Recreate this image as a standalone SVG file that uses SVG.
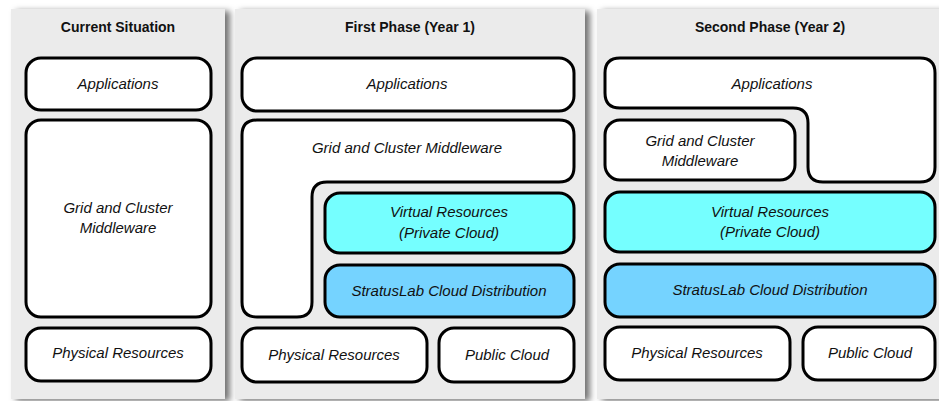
<svg xmlns="http://www.w3.org/2000/svg" width="939" height="401" viewBox="0 0 939 401">
<defs>
<filter id="sh" x="-5%" y="-5%" width="115%" height="115%">
<feDropShadow dx="5" dy="2" stdDeviation="3" flood-color="#000" flood-opacity="0.55"/>
</filter>
<style>
.panel{fill:#ebebeb;filter:url(#sh)}
.title{font-family:"Liberation Sans",Arial,sans-serif;font-weight:bold;font-size:14px;fill:#111;text-anchor:middle}
.box{fill:#fff;stroke:#000;stroke-width:3}
.virt{fill:#75ffff;stroke:#000;stroke-width:3}
.strat{fill:#75d3ff;stroke:#000;stroke-width:3}
.lbl{font-family:"Liberation Sans",Arial,sans-serif;font-style:italic;font-size:15px;fill:#111;text-anchor:middle}
</style>
</defs>
<rect width="939" height="401" fill="#fff"/>
<g id="panel-current">
<rect class="panel" x="11" y="9" width="214" height="390"/>
<text class="title" x="118" y="32">Current Situation</text>
</g>
<g id="panel-first">
<rect class="panel" x="235" y="9" width="350" height="390"/>
<text class="title" x="410" y="32">First Phase (Year 1)</text>
</g>
<g id="panel-second">
<rect class="panel" x="597" y="9" width="345" height="390"/>
<text class="title" x="770" y="32">Second Phase (Year 2)</text>
</g>

<g id="p1-applications"><rect class="box" x="26" y="58" width="185" height="52" rx="15"/><text class="lbl" x="118" y="89">Applications</text></g>
<g id="p1-middleware"><rect class="box" x="26" y="120" width="185" height="197" rx="15"/><text class="lbl" x="118" y="213">Grid and Cluster</text><text class="lbl" x="118" y="233">Middleware</text></g>
<g id="p1-physical"><rect class="box" x="26" y="328" width="185" height="53" rx="15"/><text class="lbl" x="118" y="358">Physical Resources</text></g>

<g id="p2-applications"><rect class="box" x="242" y="58" width="332" height="53" rx="15"/><text class="lbl" x="407" y="89">Applications</text></g>
<g id="p2-middleware"><path class="box" d="M257,120 H559 Q574,120 574,135 V167 Q574,182 559,182 H327 Q312,182 312,197 V302 Q312,317 297,317 H257 Q242,317 242,302 V135 Q242,120 257,120 Z"/><text class="lbl" x="407" y="153">Grid and Cluster Middleware</text></g>
<g id="p2-virtual"><rect class="virt" x="325" y="193" width="249" height="60" rx="15"/><text class="lbl" x="449" y="217">Virtual Resources</text><text class="lbl" x="449" y="238">(Private Cloud)</text></g>
<g id="p2-stratuslab"><rect class="strat" x="325" y="265" width="249" height="52" rx="15"/><text class="lbl" x="449" y="296">StratusLab Cloud Distribution</text></g>
<g id="p2-physical"><rect class="box" x="242" y="328" width="185" height="54" rx="15"/><text class="lbl" x="334" y="360">Physical Resources</text></g>
<g id="p2-public"><rect class="box" x="439" y="328" width="135" height="54" rx="15"/><text class="lbl" x="507" y="360">Public Cloud</text></g>

<g id="p3-applications"><path class="box" d="M620,58 H920 Q935,58 935,73 V167 Q935,182 920,182 H823 Q808,182 808,167 V123 Q808,108 793,108 H620 Q605,108 605,93 V73 Q605,58 620,58 Z"/><text class="lbl" x="772" y="89">Applications</text></g>
<g id="p3-middleware"><rect class="box" x="605" y="120" width="190" height="60" rx="15"/><text class="lbl" x="700" y="146">Grid and Cluster</text><text class="lbl" x="700" y="166">Middleware</text></g>
<g id="p3-virtual"><rect class="virt" x="605" y="192" width="330" height="60" rx="15"/><text class="lbl" x="770" y="217">Virtual Resources</text><text class="lbl" x="770" y="237">(Private Cloud)</text></g>
<g id="p3-stratuslab"><rect class="strat" x="605" y="264" width="330" height="53" rx="15"/><text class="lbl" x="770" y="295">StratusLab Cloud Distribution</text></g>
<g id="p3-physical"><rect class="box" x="605" y="327" width="185" height="53" rx="15"/><text class="lbl" x="697" y="358">Physical Resources</text></g>
<g id="p3-public"><rect class="box" x="803" y="327" width="132" height="53" rx="15"/><text class="lbl" x="870" y="358">Public Cloud</text></g>

<g id="connectors"></g>
</svg>
